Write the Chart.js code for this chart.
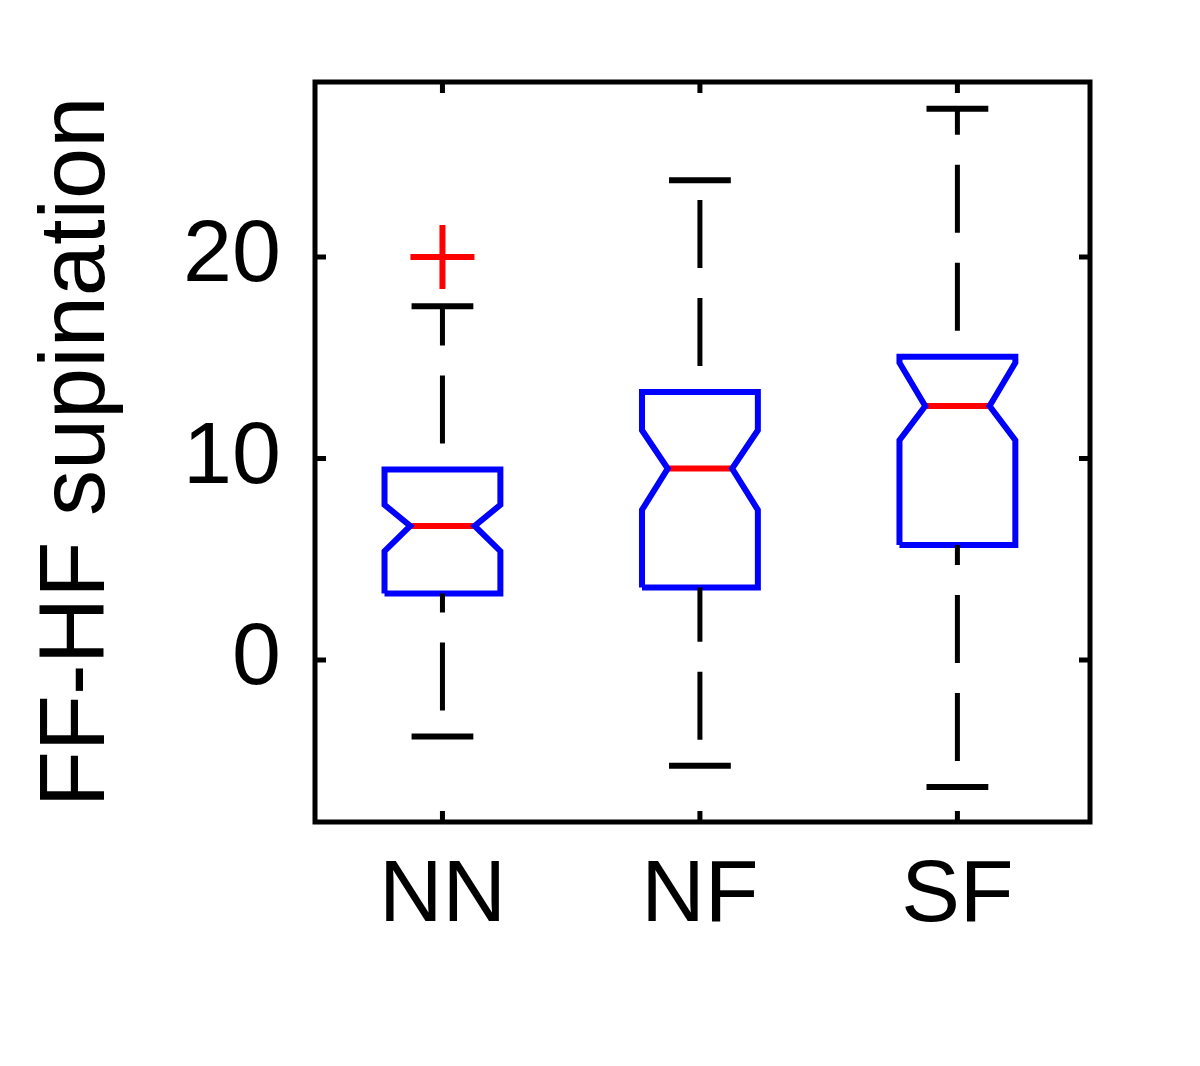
<!DOCTYPE html>
<html>
<head>
<meta charset="utf-8">
<script src="https://cdn.jsdelivr.net/npm/chart.js@4.4.1/dist/chart.umd.min.js"></script>
<style>
  html, body { margin: 0; padding: 0; background: #fff; }
  #wrap { width: 1200px; height: 1066px; }
</style>
</head>
<body>
<div id="wrap"><canvas id="boxchart"></canvas></div>
<script>
// Notched box plot - FF-HF supination per group
const groups = ['NN', 'NF', 'SF'];
const whiskerLow = [-3.8, -5.25, -6.3];
const q1 = [3.3, 3.6, 5.7];
const medians = [6.65, 9.5, 12.6];
const q3 = [9.45, 13.3, 15.05];
const whiskerHigh = [17.55, 23.8, 27.35];
const notchLow = [5.4, 7.45, 10.9];
const notchHigh = [7.7, 11.4, 14.75];
const outliers = [[20.0], [], []];
const yTicks = [0, 10, 20];

const BLUE = '#0000ff', RED = '#ff0000', BLACK = '#000000';
const boxHalf = 0.225, notchHalf = 0.125, capHalf = 0.12;
const FONT = { family: '"Liberation Sans", Arial, Helvetica, sans-serif', size: 88, lineHeight: 1 };
const TITLE_FONT = { family: FONT.family, size: 92, lineHeight: 1 };

// one polyline dataset
function line(points, color, width, dashed) {
  return {
    data: points,
    showLine: true,
    borderColor: color,
    borderWidth: width,
    pointRadius: 0,
    pointHoverRadius: 0,
    fill: false,
    borderDash: dashed ? [68, 30] : [],
    borderDashOffset: dashed ? 72 : 0
  };
}

const datasets = [];
groups.forEach((g, i) => {
  const x = i + 1;
  // whiskers (dashed) and their caps
  datasets.push(line([{x: x, y: q3[i]}, {x: x, y: whiskerHigh[i]}], BLACK, 5, true));
  datasets.push(line([{x: x, y: whiskerLow[i]}, {x: x, y: q1[i]}], BLACK, 5, true));
  datasets.push(line([{x: x - capHalf, y: whiskerHigh[i]}, {x: x + capHalf, y: whiskerHigh[i]}], BLACK, 6));
  datasets.push(line([{x: x - capHalf, y: whiskerLow[i]}, {x: x + capHalf, y: whiskerLow[i]}], BLACK, 6));
  // notched box outline
  datasets.push(line([
    {x: x - boxHalf, y: q1[i]},
    {x: x + boxHalf, y: q1[i]},
    {x: x + boxHalf, y: notchLow[i]},
    {x: x + notchHalf, y: medians[i]},
    {x: x + boxHalf, y: notchHigh[i]},
    {x: x + boxHalf, y: q3[i]},
    {x: x - boxHalf, y: q3[i]},
    {x: x - boxHalf, y: notchHigh[i]},
    {x: x - notchHalf, y: medians[i]},
    {x: x - boxHalf, y: notchLow[i]},
    {x: x - boxHalf, y: q1[i]}
  ], BLUE, 6));
  // median
  datasets.push(line([{x: x - notchHalf, y: medians[i]}, {x: x + notchHalf, y: medians[i]}], RED, 6));
});

// outliers as red plus signs
datasets.push({
  data: outliers.flatMap((vals, i) => vals.map(v => ({x: i + 1, y: v}))),
  showLine: false,
  pointStyle: 'cross',
  pointRadius: 32,
  pointHoverRadius: 32,
  pointBorderColor: RED,
  pointBorderWidth: 6
});

// box frame with inward ticks on all four sides
const matlabFrame = {
  id: 'matlabFrame',
  afterDatasetsDraw(chart) {
    const {ctx, chartArea: a, scales: {x, y}} = chart;
    const tick = 11;
    ctx.save();
    ctx.strokeStyle = BLACK;
    ctx.lineWidth = 5;
    ctx.strokeRect(a.left, a.top, a.right - a.left, a.bottom - a.top);
    ctx.beginPath();
    x.ticks.forEach(t => {
      const px = x.getPixelForValue(t.value);
      ctx.moveTo(px, a.bottom); ctx.lineTo(px, a.bottom - tick);
      ctx.moveTo(px, a.top); ctx.lineTo(px, a.top + tick);
    });
    y.ticks.forEach(t => {
      const py = y.getPixelForValue(t.value);
      ctx.moveTo(a.left, py); ctx.lineTo(a.left + tick, py);
      ctx.moveTo(a.right, py); ctx.lineTo(a.right - tick, py);
    });
    ctx.stroke();
    ctx.restore();
  }
};

new Chart(document.getElementById('boxchart'), {
  type: 'scatter',
  data: { datasets: datasets },
  options: {
    responsive: true,
    maintainAspectRatio: false,
    animation: false,
    layout: { padding: { top: 82, right: 110, bottom: 0, left: 0 } },
    plugins: {
      legend: { display: false },
      tooltip: { enabled: false }
    },
    scales: {
      x: {
        type: 'linear',
        min: 0.505,
        max: 3.515,
        grid: { display: false, drawTicks: false },
        border: { display: false },
        afterBuildTicks: s => { s.ticks = groups.map((g, i) => ({ value: i + 1 })); },
        afterFit: s => { s.height = 244; },
        ticks: {
          callback: v => groups[v - 1],
          color: BLACK,
          font: FONT,
          padding: 31,
          maxRotation: 0,
          autoSkip: false
        }
      },
      y: {
        type: 'linear',
        min: -8.04,
        max: 28.68,
        grid: { display: false, drawTicks: false },
        border: { display: false },
        afterBuildTicks: s => { s.ticks = yTicks.map(v => ({ value: v })); },
        afterFit: s => { s.width = 315; },
        ticks: { color: BLACK, font: FONT, padding: 34 },
        title: {
          display: true,
          text: 'FF-HF supination',
          color: BLACK,
          font: TITLE_FONT,
          padding: { top: 33, bottom: 0 }
        }
      }
    }
  },
  plugins: [matlabFrame]
});
</script>
</body>
</html>
